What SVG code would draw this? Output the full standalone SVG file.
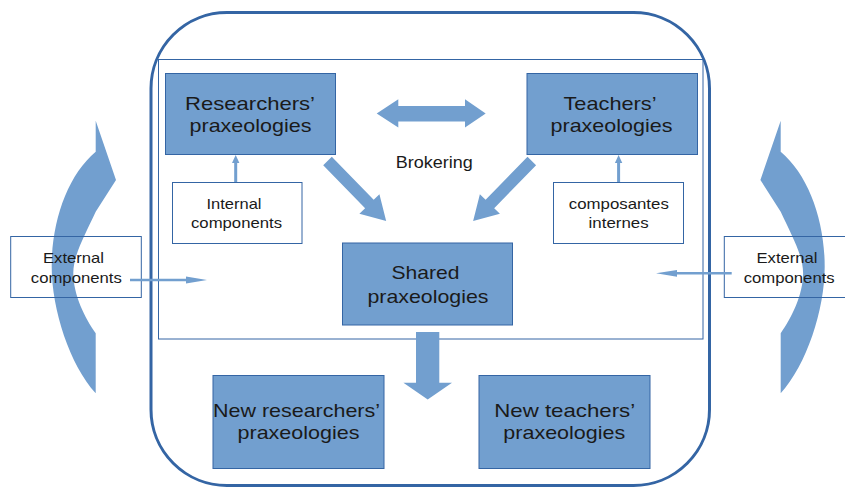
<svg xmlns="http://www.w3.org/2000/svg" width="845" height="488" viewBox="0 0 845 488">
  <style>
    .blk { fill: #729fcf; stroke: #3465a4; stroke-width: 1; }
    .wbox { fill: #ffffff; stroke: #3465a4; stroke-width: 1; }
    .obox { fill: none; stroke: #3465a4; stroke-width: 1; }
    .arr { fill: #729fcf; stroke: none; }
    text { font-family: "Liberation Sans", Arial, sans-serif; fill: #1a1a1a; text-anchor: middle; }
    .big { font-size: 19px; }
    .small { font-size: 15px; }
    .mid { font-size: 16px; }
  </style>
  <defs>
    <path id="curved" d="M 95.7,120.7 L 116,180 L 95.7,211.7 C 85,235 73.3,255 73.3,273 C 73.3,295 85,318 95.7,333.3 L 95.7,393.3 C 70,365 51.7,310 51.7,266.7 C 51.7,220 68,175 95.7,151.7 Z"/>
    <path id="diag" d="M 0,-6 L 60,-6 L 60,-14 L 84,0 L 60,14 L 60,6 L 0,6 Z"/>
  </defs>

  <!-- background -->
  <rect x="0" y="0" width="845" height="488" fill="#ffffff"/>

  <!-- curved side arrows -->
  <g id="curved-left">
    <use href="#curved" class="arr"/>
  </g>
  <g id="curved-right">
    <use href="#curved" class="arr" transform="translate(876.4,0) scale(-1,1)"/>
  </g>

  <!-- frames -->
  <g id="outer-frame">
    <rect x="151" y="12.5" width="558.5" height="473" rx="76" ry="76" fill="none" stroke="#3465a4" stroke-width="3"/>
  </g>
  <g id="inner-frame">
    <rect x="158.5" y="59.5" width="544.5" height="279.5" fill="none" stroke="#3465a4" stroke-width="1"/>
  </g>

  <!-- nodes -->
  <g id="researchers">
    <rect class="blk" x="165.5" y="73.5" width="170" height="81"/>
    <text class="big" x="250" y="110" textLength="130" lengthAdjust="spacingAndGlyphs">Researchers’</text>
    <text class="big" x="250.5" y="132" textLength="122" lengthAdjust="spacingAndGlyphs">praxeologies</text>
  </g>
  <g id="teachers">
    <rect class="blk" x="527" y="73.5" width="170.5" height="81"/>
    <text class="big" x="610" y="110" textLength="93" lengthAdjust="spacingAndGlyphs">Teachers’</text>
    <text class="big" x="611.5" y="132" textLength="122" lengthAdjust="spacingAndGlyphs">praxeologies</text>
  </g>
  <g id="brokering">
    <text class="mid" x="434.3" y="167.7" textLength="77" lengthAdjust="spacingAndGlyphs">Brokering</text>
  </g>
  <g id="internal">
    <rect class="wbox" x="172.5" y="182.5" width="129.5" height="61"/>
    <text class="small" x="234" y="209.3" textLength="55" lengthAdjust="spacingAndGlyphs">Internal</text>
    <text class="small" x="236.5" y="227.7" textLength="91" lengthAdjust="spacingAndGlyphs">components</text>
  </g>
  <g id="composantes">
    <rect class="wbox" x="553.5" y="182.5" width="130" height="61"/>
    <text class="small" x="618.8" y="209.3" textLength="100" lengthAdjust="spacingAndGlyphs">composantes</text>
    <text class="small" x="618.6" y="227.7" textLength="60" lengthAdjust="spacingAndGlyphs">internes</text>
  </g>
  <g id="shared">
    <rect class="blk" x="342.5" y="243" width="170" height="82"/>
    <text class="big" x="425.5" y="279.3" textLength="68" lengthAdjust="spacingAndGlyphs">Shared</text>
    <text class="big" x="428" y="303.3" textLength="121" lengthAdjust="spacingAndGlyphs">praxeologies</text>
  </g>
  <g id="new-researchers">
    <rect class="blk" x="213" y="375.5" width="171" height="93"/>
    <text class="big" x="296.5" y="416.7" textLength="167" lengthAdjust="spacingAndGlyphs">New researchers’</text>
    <text class="big" x="298.5" y="439.3" textLength="122" lengthAdjust="spacingAndGlyphs">praxeologies</text>
  </g>
  <g id="new-teachers">
    <rect class="blk" x="479" y="375.5" width="171" height="93"/>
    <text class="big" x="564.7" y="416.7" textLength="141" lengthAdjust="spacingAndGlyphs">New teachers’</text>
    <text class="big" x="564.3" y="439.3" textLength="122" lengthAdjust="spacingAndGlyphs">praxeologies</text>
  </g>
  <g id="external-left">
    <rect class="obox" x="10.7" y="236.5" width="130.6" height="61"/>
    <text class="small" x="73.5" y="263.3" textLength="61" lengthAdjust="spacingAndGlyphs">External</text>
    <text class="small" x="76.3" y="282.7" textLength="91" lengthAdjust="spacingAndGlyphs">components</text>
  </g>
  <g id="external-right">
    <rect class="obox" x="724.3" y="236.5" width="130.6" height="61"/>
    <text class="small" x="787" y="263.3" textLength="61" lengthAdjust="spacingAndGlyphs">External</text>
    <text class="small" x="789.2" y="282.7" textLength="91" lengthAdjust="spacingAndGlyphs">components</text>
  </g>

  <!-- connectors -->
  <g id="connectors">
    <polygon class="arr" points="376.7,113.5 398.3,99.3 398.3,106 465,106 465,99.3 485.7,113.5 465,127.5 465,121.5 398.3,121.5 398.3,127.5"/>
    <use href="#diag" class="arr" transform="translate(327.5,161) rotate(45.7)"/>
    <use href="#diag" class="arr" transform="translate(531.8,161) rotate(134.3)"/>
    <polygon class="arr" points="234.2,182 234.2,163 232,163 235.7,155 239.4,163 237.2,163 237.2,182"/>
    <polygon class="arr" points="617.1,182 617.1,163 614.9,163 618.6,155 622.3,163 620.1,163 620.1,182"/>
    <polygon class="arr" points="130,278.8 186,278.8 186,276.6 207,280 186,283.4 186,281.2 130,281.2"/>
    <polygon class="arr" points="731.7,272.1 677,272.1 677,269.9 656,273.3 677,276.7 677,274.5 731.7,274.5"/>
    <polygon class="arr" points="416,332 439.3,332 439.3,382.7 452,382.7 427.7,399.5 403.4,382.7 416,382.7"/>
  </g>
</svg>
